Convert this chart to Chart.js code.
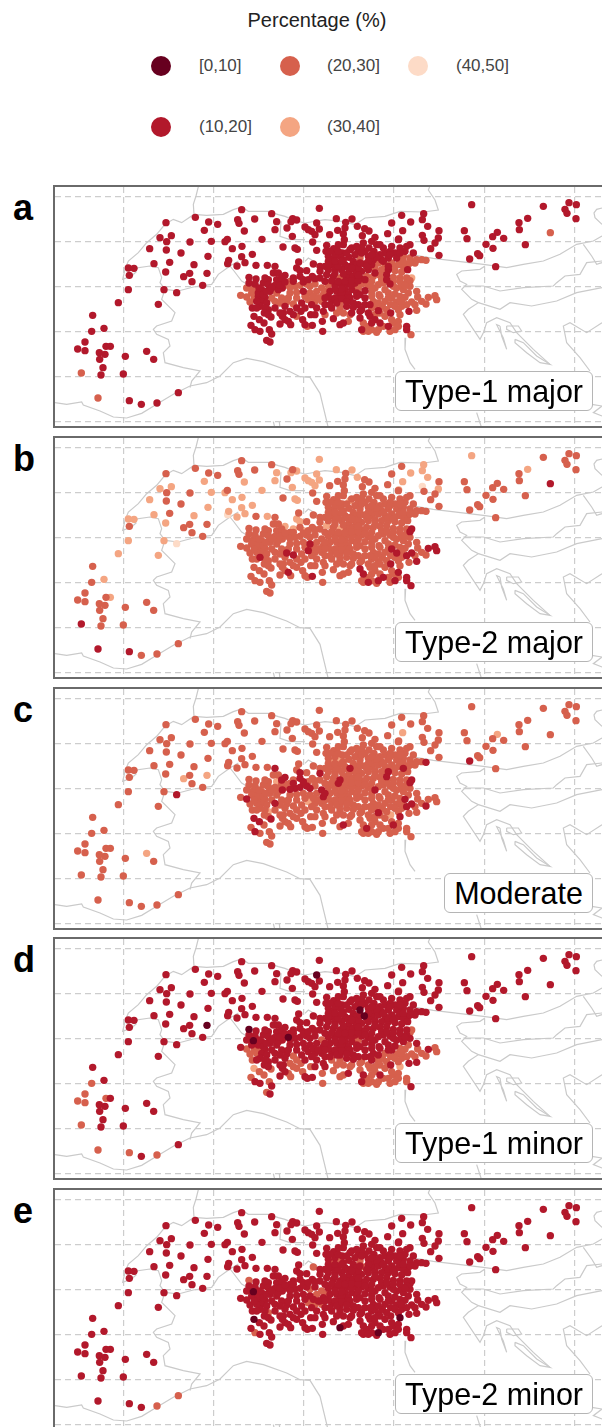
<!DOCTYPE html>
<html><head><meta charset="utf-8">
<script src="https://cdn.jsdelivr.net/npm/chart.js@4"></script>
<style>
html,body{margin:0;padding:0;background:#fff;width:602px;height:1427px;overflow:hidden;font-family:"Liberation Sans",Arial,sans-serif}
#title{position:absolute;left:0;width:634px;top:7px;text-align:center;font-size:20px;color:#222;line-height:26px}
.key{position:absolute;width:20px;height:20px;border-radius:50%}
.keyText{position:absolute;font-size:17px;line-height:20px;color:#444}
.panel{position:absolute;left:53px;width:570px;height:243px;box-sizing:border-box;border:2px solid #6a6a6a;background:#fff}
.panel canvas{position:absolute;left:0;top:0}
.letter{position:absolute;left:13px;font-size:36px;font-weight:bold;color:#000;line-height:40px}
.tag{position:absolute;top:184px;height:40px;line-height:39px;padding:0 9px;font-size:30.5px;color:#000;background:#fff;border:1px solid #b5b5b5;border-radius:6px;box-sizing:border-box}
</style></head><body>
<div id="title">Percentage (%)</div>
<div id="stage"></div>
<script>
// Legend
const classLabels=["[0,10]","(10,20]","(20,30]","(30,40]","(40,50]"];
const classColors=["#67001f","#b2182b","#d6604d","#f4a582","#fddbc7"];
const panelLetters=["a","b","c","d","e"];
const panelTags=["Type-1 major","Type-2 major","Moderate","Type-1 minor","Type-2 minor"];
const panelTops=[186,437,688,938,1189];

// Grid positions on the map scale
const gridX=[-304,-34,237,507,778,1048];
const gridY=[-5,130,265,400,535,670];

// Stations (map units)
const stationX=[
// west
-177,-89,-49,-22,-62,-161,-195,-175,-105,-41,-176,-226,-132,-51,-166,-213,-93,-290,-273,-287,
-178,-124,-106,-54,-99,-67,-290,-183,-145,-320,-200,-397,-363,-400,-420,-442,-420,-357,-344,-377,
-360,-376,-299,-235,-214,-366,-431,-372,-305,-140,-381,-287,-251,-204,
// north
50,140,38,42,89,155,203,215,198,150,186,58,240,250,275,283,260,270,202,7,
0,111,263,22,51,174,210,217,275,82,50,60,11,8,36,93,127,283,334,362,
381,314,338,360,397,419,432,412,355,358,355,488,500,530,557,596,592,608,642,592,
597,640,630,617,642,533,521,
// row 1
305,326,303,352,380,400,415,432,450,455,475,500,520,525,555,540,565,590,603,375,390,420,447,480,510,575,
// row 2
310,325,345,372,385,405,430,445,465,490,515,535,555,570,548,320,335,360,375,395,418,440,460,480,500,520,535,300,221,265,285,
// row 3
150,215,225,245,285,310,330,350,372,390,410,430,450,470,490,510,530,548,560,555,
145,160,180,205,225,262,285,305,325,345,365,385,405,425,445,465,485,505,525,545,72,93,130,155,170,195,
// row 4
72,65,85,115,130,150,172,190,210,225,245,255,270,290,310,330,350,370,390,410,
430,450,475,495,515,535,555,110,135,155,195,215,235,255,275,295,315,335,360,380,
400,420,440,462,490,510,525,575,550,47,65,80,100,120,380,395,370,345,
// row 5
75,82,110,125,105,130,150,185,205,230,250,270,290,300,320,345,360,375,395,420,
445,465,480,500,540,515,560,578,603,610,630,635,440,460,430,472,497,510,530,345,335,355,295,275,228,195,
// row 6
87,103,117,138,78,90,105,133,140,125,135,172,180,165,190,197,233,240,247,262,
257,292,300,293,325,345,355,370,375,405,415,410,425,435,450,465,465,440,455,475,
490,505,520,495,510,525,497,545,545,552,575,558,415,430,460,
// row 7
120,100,140,170,190,215,240,265,285,310,330,350,405,440,480,505,530,545,470,440,
420,395,370,340,310,450,490,525,555,470,430,400,355,330,465,495,410,440,355,300,
170,235,160,115,95,120,400,385,365,410,450,480,500,520,440,380,320,270,215,175,
// east
740,955,1032,1054,1020,1026,1053,908,882,883,976,718,726,803,817,836,783,804,901,734,758,764,812,
// dense core
90,102,88,95,118,130,125,140,165,180,
195,205,235,250,270,300,320,340,360,380,
400,420,440,460,485,505,525,540,330,350,
300,280,260,240,215,180,165,150,165,205,
315,335,350,365,385,405,420,450,485,490,
520,545,570,590,530,460,435,330,350,380,
405,425,455,475,505,535,495,525,545,440,
410,395,365,340,315,340,310,330,355,400
];
const stationY=[
// west
74,58,72,79,97,113,119,131,132,130,156,152,165,175,193,197,200,210,211,232,
222,236,226,226,251,262,275,275,284,314,319,352,391,400,432,453,458,445,445,464,
469,484,475,460,484,509,525,531,528,584,600,608,619,615,
// north
35,47,65,76,63,71,62,66,71,95,90,99,87,95,75,93,100,110,115,124,
131,124,132,152,145,147,150,154,157,169,176,194,187,197,204,202,202,31,62,73,
63,110,97,90,85,92,99,113,108,125,140,107,75,52,72,47,65,85,98,112,
127,120,135,152,172,98,123,
// row 1
142,152,160,165,150,160,135,150,118,140,150,145,125,150,140,160,165,185,187,155,170,160,160,165,165,185,
// row 2
175,185,175,178,190,180,175,185,170,180,180,175,180,195,200,200,195,200,205,200,198,200,195,200,195,200,205,205,192,198,205,
// row 3
205,210,218,218,220,215,215,215,225,215,220,215,212,215,215,218,222,215,240,248,
225,225,232,240,235,235,240,230,235,240,240,235,240,235,235,232,230,238,240,240,238,243,245,245,250,250,
// row 4
255,270,272,255,260,262,270,262,265,262,258,265,258,270,262,258,262,258,255,258,
262,270,255,258,270,275,265,275,280,285,285,283,280,285,280,290,280,280,275,275,
270,278,282,290,285,288,295,280,285,292,297,285,295,298,262,285,290,295,
// row 5
312,330,310,315,325,335,310,312,318,315,305,310,310,320,305,315,300,300,295,300,
310,295,310,300,298,312,312,297,318,298,293,305,330,338,345,325,320,325,325,330,345,345,340,330,340,340,
// row 6
355,365,375,357,382,395,400,395,408,427,432,355,365,378,370,380,365,380,385,382,
350,370,350,400,362,380,375,370,350,360,375,395,385,355,365,345,375,395,403,385,
385,375,370,400,395,350,345,385,395,340,337,410,400,400,395,
// row 7
240,285,300,300,300,300,295,295,300,295,300,285,290,295,275,265,260,255,245,250,
245,225,210,205,190,225,205,190,195,185,190,210,185,170,140,160,150,130,255,280,
240,245,275,290,310,330,320,315,325,335,350,355,365,385,375,345,330,350,355,345,
// east
20,25,14,20,34,46,62,61,74,95,104,98,122,116,103,121,139,151,140,183,167,173,206,
// dense core
258,270,300,330,345,350,280,270,262,252,
268,250,252,245,242,250,248,250,250,248,
248,255,268,260,245,250,250,262,270,272,
300,300,320,330,330,325,315,330,345,350,
320,315,302,312,328,340,320,325,335,300,
335,320,320,310,310,315,320,190,190,210,
195,205,178,190,210,190,170,165,145,170,
165,145,165,160,160,140,200,225,228,232
];

// Percentage class of each station per panel (index into classLabels), in station order
const classA=[
"1111111111","1111111111","1111111111","1111111111","1111112111","2111",
"1111111111","1111111111","1111111111","1111111111","1111111111","1111111111","1111111",
"1111111111","1111111221","111112",
"1111121111","1222211111","1122222111","1",
"1111111111","1122122132","1111111112","1112221222","111112",
"1221111222","2222211112","2221222112","2212221111","2122222222","2211","1111",
"2111112221","2221121111","2222222222","2221122222","221111",
"1111111111","1111111121","1121111221","2121121222","1222221111","22222",
"1122222221","1112222222","1111111221","1111111112","1111111111","2222111121",
"1111111111","2111111111","111",
"1121111111","2111111111","1222122211","1211112111","1111111222","2222221111","1111221111","1111111111"];
const classB=[
"2222333223","2323233332","3222223343","3232222232","2222221222","1122",
"2222232333","2333333332","3323323323","3334323332","3222322222","2222333324","2322233",
"2222222222","2222222223","222222",
"2222222222","2222222222","2222222222","2",
"2332222222","2222222211","2233222323","2222222222","222222",
"2222222222","2222222222","2222222222","2221222222","2222222222","2222","2222",
"2222122112","1222222222","2221211221","1122222222","222222",
"2222222222","2222122221","2222222221","1222222221","2212121112","11211",
"2222222222","2222222222","2222222222","2222222222","2322222222","2222222222",
"3222222322","1222222222","222",
"2222222222","2222222222","2222222222","2222222222","2222222222","2122222222","2222222222","2222222222"];
const classC=[
"2222222222","2222222222","2323222212","2222222222","2223222222","2222",
"2222222222","2222222222","2222222222","2222222222","2222222222","2222222222","2222232",
"2222222222","2222222212","222222",
"2332222222","2222222212","2222221222","2",
"1212122222","2222122211","2212122221","2222221222","222322",
"2222221211","1121222222","2122222222","2222212222","2222222222","1222","2222",
"2222231222","3222222222","2222121212","2221222222","222222",
"1121212222","2222222222","2222221222","2212222222","2122213222","22222",
"2222222222","2222222222","2222222222","2222222221","1122222222","2222222222",
"2222222222","2222322221","222",
"2222222222","1122222122","2222222222","2222222222","2222222222","2122222222","2222222222","2222222222"];
const classD=[
"1111111111","1111111111","1110111111","1112222211","1111112111","2212",
"1111111111","1111011111","1111111111","1111111111","1111111111","1111111111","1111112",
"1111111111","1111111111","111111",
"1111101111","1111111111","0111111111","1",
"1111111111","1111111122","1111111111","1111111111","011111",
"1101111011","1112111111","1111111111","1111111111","2111112121","2121","1111",
"2211111121","1111111111","1121222221","2212222222","221122",
"3222211212","1111222111","2212222122","1122221222","2222231221","11222",
"1111111111","1111111111","1111111111","1111111111","1111211112","2222222121",
"1111111111","1111111111","111",
"1121111111","1111111111","1111111111","1111211112","1111121221","2222211111","1111111111","1111111111"];
const classE=[
"1111111111","1111111111","1111111111","1111111111","1111111112","1112",
"1111111111","1111111111","1111111111","1111111111","1111111111","1111111111","1111111",
"1111111111","1111111111","111111",
"1221121111","1111111111","2111111112","1",
"1111111111","1111111111","1111111111","1111111111","211111",
"1101111111","1212111111","1111111111","1111211111","1111111111","1111","1111",
"1111121111","2221111111","1111111111","1111111111","111111",
"0111121111","1111111111","1111101111","1111111111","1111101111","11110",
"1111111111","1111111111","1111111111","1111111112","1111111111","1111111111",
"1111111111","1111111111","111",
"1111111111","1111111111","1111111111","1111111111","1111111111","1111111111","1111111111","1111111111"];

// Grey map outlines, x,y pairs in map units
const outlines=[
[-510,614,-475,619,-430,612,-425,621,-375,639,-335,657,-295,660,-250,646,-205,619,-155,589,-105,564,-55,554,-15,534,25,494,65,481,115,491,185,516,225,536,255,538,285,586,310,690],
[-80,-34,-87,-6,-95,19,-93,49,-130,74,-155,64,-180,79,-205,109,-235,134,-260,164,-290,189,-300,214,-307,244,-280,234,-267,222,-280,212,-225,204,-200,209,-190,239,-195,254,-180,274,-140,279,-95,267,-40,259,-20,229,15,204,40,189],
[15,204,27,219,50,249,75,264],
[-93,49,-55,52,-5,49,25,35,50,27,70,40,130,40,160,50,180,55,210,68,240,75,300,65,350,70,390,80,420,60,480,55,525,40,595,42,640,36,630,6,610,-24,615,-36],
[168,70,165,115,195,125,240,125],
[560,170,625,181,700,190,775,199,845,209,895,199,955,189,1005,169,1055,139,1105,129,1131,114],
[1075,139,1100,174,1115,199,1131,194],
[1131,30,1115,34,1107,45,1110,59,1131,79],
[780,204,765,214,710,219,695,229,705,249,725,259,710,274,740,304,760,314,730,334,715,349,765,424,775,404,785,374,815,359,855,374,875,404,925,454,975,499],
[825,384,830,414,845,454,835,420,815,380,825,384],
[845,384,880,384,890,399,865,404,845,394,845,384],
[870,424,895,434,935,474,975,499,945,494,905,464,870,434,870,424],
[715,264,775,264,825,279,895,269,985,264,995,254,1020,234,1065,229,1085,194,1131,189],
[760,314,825,334,855,314,920,324,995,309,1055,284,1131,269],
[1131,374,1085,404,1035,374,1015,384,1025,434,1065,479,1095,519],
[542,419,540,454,555,494,570,514],
[755,644,770,690],
[1100,619,1131,624,1105,644,1131,654],
[-180,274,-190,304,-150,344,-160,369,-205,384,-215,394,-205,409,-170,424,-165,444,-185,464,-180,494,-125,509,-75,519,-100,549,-105,569],
[145,671,150,691,165,691,163,671],
[240,190,250,180,275,195,290,210]
];

// Legend placement
const keyCols=[151,280,408];
const keyRows=[56,117];
const textCols=[199,327,456];
const keyCells=[[0,0],[0,1],[1,0],[1,1],[2,0]];
keyCells.forEach(([c,r],i)=>{
  const k=document.createElement('div');k.className='key';
  k.style.left=keyCols[c]+'px';k.style.top=keyRows[r]+'px';k.style.background=classColors[i];
  document.body.appendChild(k);
  const t=document.createElement('div');t.className='keyText';
  t.style.left=textCols[c]+'px';t.style.top=keyRows[r]+'px';t.textContent=classLabels[i];
  document.body.appendChild(t);
});

const panelClasses=[classA,classB,classC,classD,classE].map(rows=>rows.join(''));
const stage=document.getElementById('stage');

panelLetters.forEach((letter,p)=>{
  const l=document.createElement('div');l.className='letter';l.textContent=letter;
  l.style.top=(panelTops[p]+2)+'px';stage.appendChild(l);
  const box=document.createElement('div');box.className='panel';box.style.top=(panelTops[p]-1)+'px';
  const cv=document.createElement('canvas');cv.width=566;cv.height=239;cv.style.width='566px';cv.style.height='239px';
  box.appendChild(cv);
  const tag=document.createElement('div');tag.className='tag';tag.textContent=panelTags[p];
  tag.style.right='28px';
  box.appendChild(tag);
  stage.appendChild(box);

  const seq=panelClasses[p];
  const datasets=[];
  // darker classes on top
  [0,1,2,3,4].forEach(c=>{
    const pts=[];
    stationX.forEach((x,i)=>{ if(+seq[i]===c) pts.push({x,y:stationY[i]}); });
    datasets.push({label:classLabels[c],data:pts,showLine:false,pointRadius:3.7,pointHoverRadius:3.7,pointBorderWidth:0,pointBackgroundColor:classColors[c]});
  });
  outlines.forEach(o=>{
    const pts=[];
    for(let i=0;i<o.length;i+=2) pts.push({x:o[i],y:o[i+1]});
    datasets.push({label:'outline',data:pts,showLine:true,pointRadius:0,borderColor:'#cacaca',borderWidth:1.2,tension:0});
  });
  const gridOpts={color:'#cdcdcd',lineWidth:1.2,drawTicks:false,z:0};
  new Chart(cv,{type:'scatter',data:{datasets},options:{
    responsive:false,animation:false,devicePixelRatio:1,
    layout:{padding:0,autoPadding:false},
    plugins:{legend:{display:false},tooltip:{enabled:false},title:{display:false}},
    scales:{
      x:{type:'linear',min:-510,max:1188,
        afterBuildTicks:s=>{s.ticks=gridX.map(v=>({value:v}));},
        afterFit:s=>{s.height=0;},
        ticks:{display:false},border:{display:false,dash:[6,4]},grid:gridOpts},
      y:{type:'linear',reverse:true,min:-33,max:684,
        afterBuildTicks:s=>{s.ticks=gridY.map(v=>({value:v}));},
        afterFit:s=>{s.width=0;},
        ticks:{display:false},border:{display:false,dash:[6,4]},grid:gridOpts}
    }
  }});
});
</script>
</body></html>
